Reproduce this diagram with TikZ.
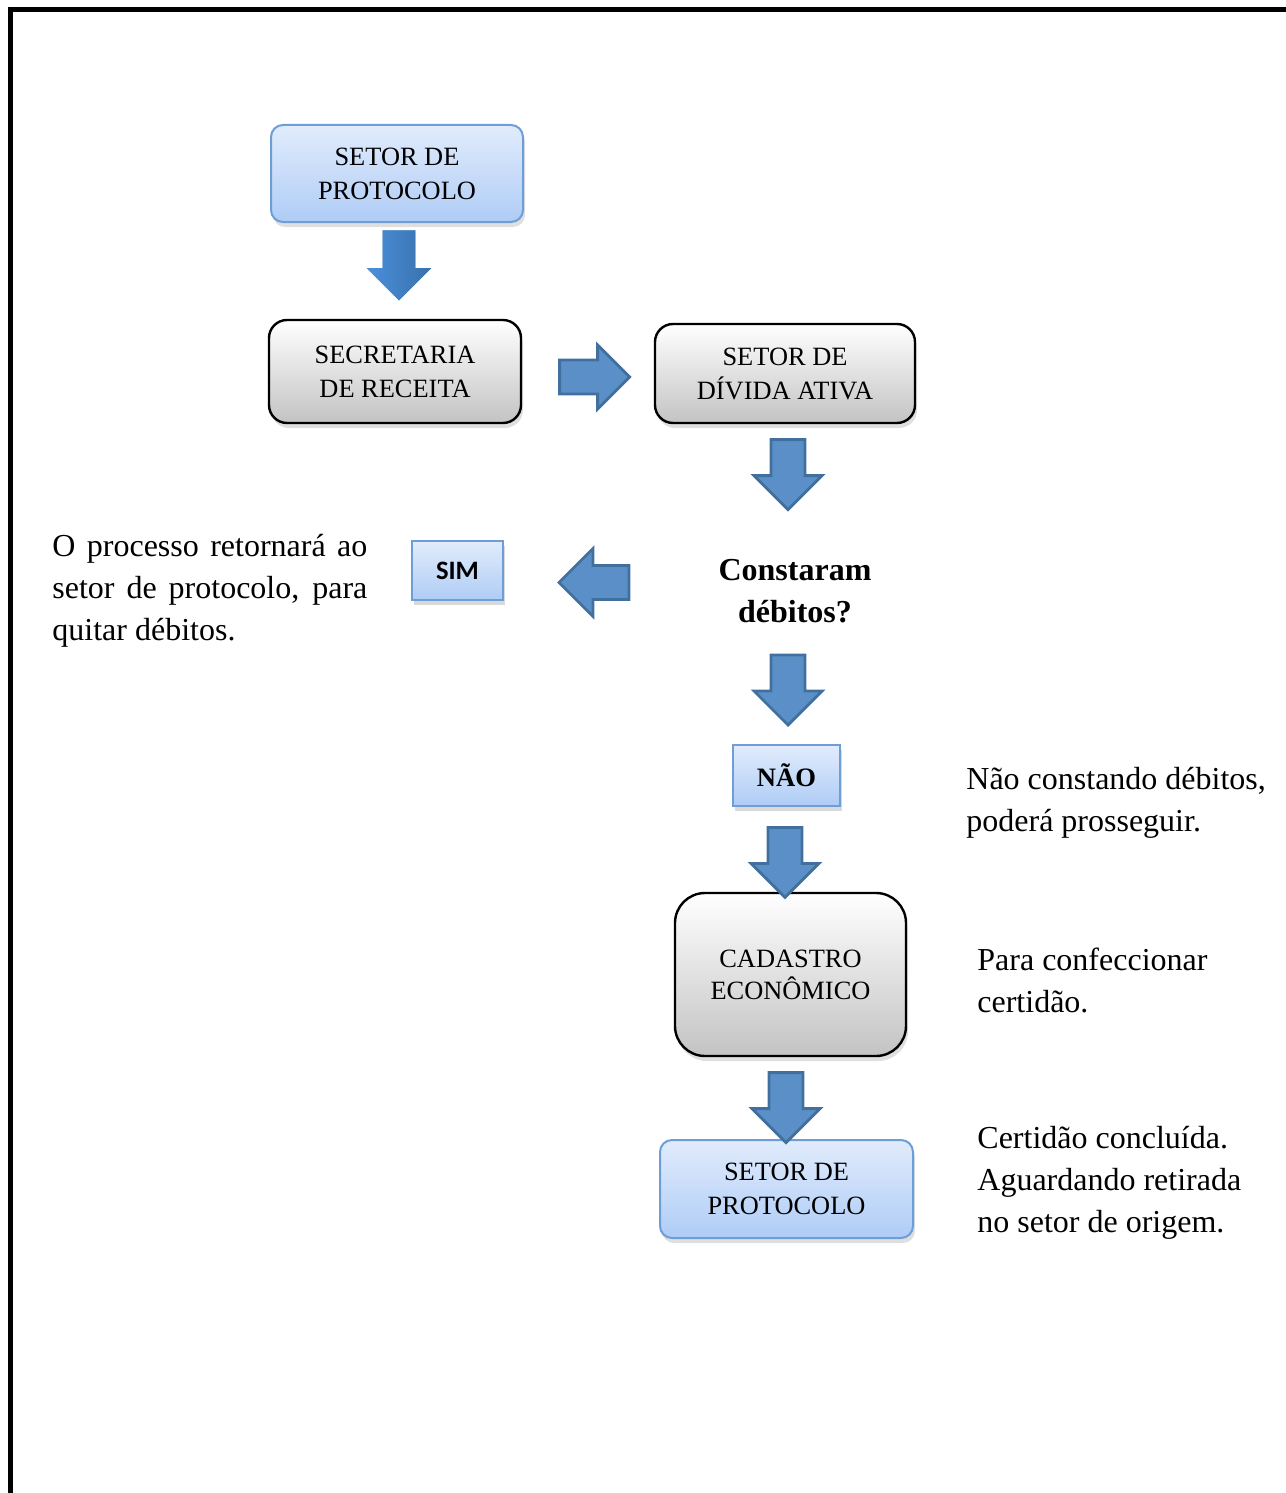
\documentclass[tikz,border=0pt]{standalone}
\usepackage{fontspec}
\setmainfont{Liberation Serif}
\newfontfamily\simfont{Carlito}
\usetikzlibrary{shapes.arrows,shadows,calc}

\definecolor{boxbluetop}{HTML}{E1ECFC}
\definecolor{boxblue}{HTML}{AFCCF6}
\definecolor{blueline}{HTML}{6D9ED7}
\definecolor{boxgray}{HTML}{C3C3C3}
\definecolor{arrowfill}{HTML}{5B8FC7}
\definecolor{arrowline}{HTML}{42709E}
\definecolor{arrowtop}{HTML}{4A90DA}
\definecolor{arrowbottom}{HTML}{3970AC}

\begin{document}
\begin{tikzpicture}[x=0.5pt, y=-0.5pt,
    boxfont/.style={font=\fontsize{13.2}{17}\selectfont},
    bluebox/.style={draw=blueline, line width=1pt, rounded corners=6pt,
        top color=boxbluetop, bottom color=boxblue, align=center, inner sep=0pt,
        drop shadow={shadow xshift=1pt, shadow yshift=-2.5pt, opacity=0.25}, boxfont},
    graybox/.style={draw=black, line width=1.2pt, rounded corners=9pt,
        top color=white, bottom color=boxgray, align=center, inner sep=0pt,
        drop shadow={shadow xshift=1pt, shadow yshift=-2.5pt, opacity=0.25}, boxfont},
    tagbox/.style={draw=blueline, line width=1pt,
        top color=boxbluetop, bottom color=boxblue, inner sep=0pt,
        drop shadow={shadow xshift=1pt, shadow yshift=-2.5pt, opacity=0.3}},
    blockarrow/.style={single arrow, draw=arrowline, line width=1.4pt, fill=arrowfill,
        minimum height=35pt, inner xsep=0pt, inner ysep=7.8pt,
        single arrow head extend=8.5pt},
    note/.style={align=left, inner sep=0pt, font=\fontsize{16}{21}\selectfont}
]
    % Page and frame
    \useasboundingbox (0,0) rectangle (1285,1493);
    \draw[line width=2.5pt] (10,1510) -- (10,10) -- (1300,10);

    % 1. The boxes
    \node[bluebox, minimum width=126pt, minimum height=48.5pt] (prot) at (397,173.5) {SETOR DE\\PROTOCOLO};
    \node[graybox, minimum width=126pt, minimum height=51.5pt] (sec) at (395,371.5) {SECRETARIA\\DE RECEITA};
    \node[graybox, minimum width=130pt, minimum height=49.5pt] (div) at (785,373.5) {SETOR DE\\DÍVIDA ATIVA};
    % base of a two-line node is its last line
    \node[align=center, inner sep=0pt, font=\bfseries\fontsize{16}{21}\selectfont, anchor=base] (deb) at (795,622) {Constaram\\débitos?};
    \node[tagbox, minimum width=45.5pt, minimum height=29.5pt, font=\simfont\bfseries\fontsize{13.3}{16}\selectfont] (sim) at (457.5,570.5) {SIM};
    \node[tagbox, minimum width=53.5pt, minimum height=30.5pt, font=\bfseries\fontsize{13.3}{16}\selectfont] (nao) at (786.5,775.5) {NÃO};
    \node[graybox, rounded corners=15pt, minimum width=115.5pt, minimum height=81.5pt, font=\fontsize{13.2}{16}\selectfont] (cad) at (790.5,974.5) {CADASTRO\\ECONÔMICO};
    \node[bluebox, minimum width=126.5pt, minimum height=49pt] (prot2) at (786.5,1189) {SETOR DE\\PROTOCOLO};

    % 2. The block arrows
    \node[blockarrow, draw=none, left color=arrowtop, right color=arrowbottom, rotate=-90,
        minimum height=35pt, inner ysep=7.5pt, single arrow head extend=8pt, anchor=tail] (a1) at ($(prot.south)+(2,6)$) {};
    \node[blockarrow, single arrow head extend=7.5pt, anchor=tail] (a2) at ($(sec.east)+(36,5.5)$) {};
    \node[blockarrow, rotate=-90, anchor=tail] (a3) at ($(div.south)+(3,14)$) {};
    \node[blockarrow, rotate=180, anchor=tip] (a4) at ($(sim.east)+(53,12)$) {};
    \node[blockarrow, rotate=-90, anchor=tip] (a5) at ($(nao.north)+(1.5,-17)$) {};
    \node[blockarrow, rotate=-90, anchor=tail] (a6) at ($(nao.south)+(-1.5,19)$) {};
    \node[blockarrow, rotate=-90, anchor=tail] (a7) at ($(cad.south)+(-4.5,14)$) {};

    % 3. The notes
    \node[note, text width=157.5pt, align=justify, anchor=base west] (volta) at (52,556)
        {O processo retornará ao\linebreak setor de protocolo, para\linebreak quitar débitos.};
    \node[note, anchor=base west] (segue) at (966,831) {Não constando débitos,\\poderá prosseguir.};
    \node[note, anchor=base west] (faz) at (977,1012) {Para confeccionar\\certidão.};
    \node[note, anchor=base west] (fim) at (977,1232) {Certidão concluída.\\Aguardando retirada\\no setor de origem.};

\end{tikzpicture}
\end{document}
